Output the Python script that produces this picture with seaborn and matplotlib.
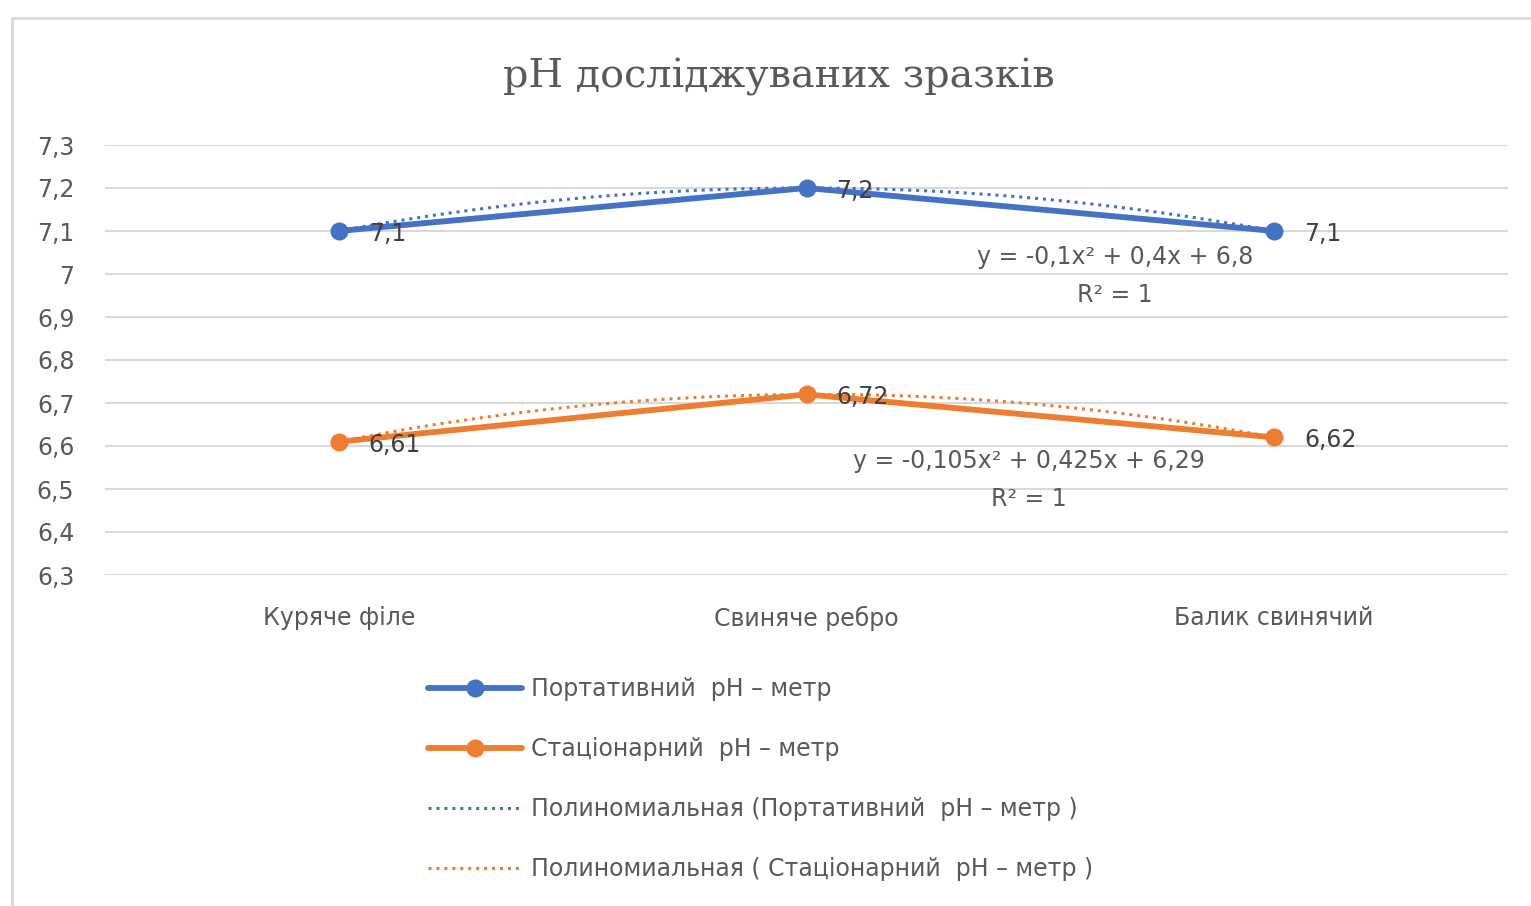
import numpy as np
import pandas as pd
import matplotlib
matplotlib.use("Agg")
import matplotlib.pyplot as plt
from matplotlib.lines import Line2D
from matplotlib.patches import Rectangle
import seaborn as sns

# Samples and measured pH values
samples = ["Куряче філе", "Свиняче ребро", "Балик свинячий"]
portable = [7.1, 7.2, 7.1]
stationary = [6.61, 6.72, 6.62]
series_names = ["Портативний  pH – метр", "Стаціонарний  pH – метр"]
trend_names = ["Полиномиальная (Портативний  pH – метр )",
               "Полиномиальная ( Стаціонарний  pH – метр )"]
equations = ["y = -0,1x² + 0,4x + 6,8", "y = -0,105x² + 0,425x + 6,29"]
y_ticks = [6.3, 6.4, 6.5, 6.6, 6.7, 6.8, 6.9, 7.0, 7.1, 7.2, 7.3]
colors = ["#4472C4", "#ED7D31"]

sns.set_theme(style="white")
plt.rcParams["font.family"] = ["DejaVu Sans"]
FS = 17

df = pd.DataFrame({
    "sample": samples * 2,
    "pH": portable + stationary,
    "series": [series_names[0]] * 3 + [series_names[1]] * 3,
})

fig = plt.figure(figsize=(15.31, 9.06), dpi=100)
ax = fig.add_axes([105 / 1531, 1 - 575 / 906, 1403 / 1531, 430 / 906])

sns.lineplot(data=df, x="sample", y="pH", hue="series", palette=colors,
             marker="o", markersize=13, markeredgewidth=0, linewidth=4.2,
             ax=ax, legend=False, zorder=3)

# Second-order polynomial trendlines (x = 1, 2, 3 as in a spreadsheet)
xs = np.arange(1, len(samples) + 1)
fine = np.linspace(1, len(samples), 200)
for vals, col in zip([portable, stationary], colors):
    coef = np.polyfit(xs, vals, 2)
    ax.plot(fine - 1, np.polyval(coef, fine), color=col, lw=2.2,
            linestyle=(0, (1, 1.6)), zorder=4)

# Data labels
for vals in [portable, stationary]:
    for i, v in enumerate(vals):
        txt = f"{v:g}".replace(".", ",")
        ax.annotate(txt, (i, v), xytext=(30, -3), textcoords="offset pixels",
                    ha="left", va="center", fontsize=FS, color="#404040",
                    zorder=5)

# Trendline equations
eq_pos = [(1.66, 7.04, 6.951), (1.476, 6.565, 6.477)]
for eq, (ex, ey, ry) in zip(equations, eq_pos):
    ax.text(ex, ey, eq, ha="center", va="center", fontsize=FS, color="#595959")
    ax.text(ex, ry, "R² = 1", ha="center", va="center", fontsize=FS,
            color="#595959")

ax.set_xlim(-0.5, 2.5)
ax.set_ylim(6.3, 7.3)
ax.set_yticks(y_ticks)
ax.set_yticklabels([f"{t:g}".replace(".", ",") for t in y_ticks])
ax.tick_params(axis="both", length=0, labelsize=FS, labelcolor="#595959")
ax.tick_params(axis="y", pad=22)
ax.tick_params(axis="x", pad=22)
ax.set_xlabel("")
ax.set_ylabel("")
ax.grid(axis="y", color="#d9d9d9", lw=1.5)
ax.set_axisbelow(True)
for s in ax.spines.values():
    s.set_visible(False)

fig.text(779 / 1531, 1 - 77 / 906, "pH досліджуваних зразків", ha="center",
         va="center", fontsize=28.6, color="#595959",
         family=["DejaVu Serif"])

# Chart area border
fig.patches.append(Rectangle((12 / 1531, -0.1), 1.2, 1 - 18 / 906 + 0.1,
                             transform=fig.transFigure, fill=False,
                             edgecolor="#d9d9d9", lw=2, zorder=0))

handles = [
    Line2D([], [], color=colors[0], lw=4.2, marker="o", markersize=13,
           markeredgewidth=0),
    Line2D([], [], color=colors[1], lw=4.2, marker="o", markersize=13,
           markeredgewidth=0),
    Line2D([], [], color=colors[0], lw=2.2, linestyle=(0, (1, 1.6))),
    Line2D([], [], color=colors[1], lw=2.2, linestyle=(0, (1, 1.6))),
]
labels = series_names + trend_names
fig.legend(handles, labels, loc="upper left",
           bbox_to_anchor=(428 / 1531, 1 - 677 / 906), frameon=False,
           fontsize=FS, labelcolor="#595959", handlelength=3.98,
           handletextpad=0.38, labelspacing=1.525, borderpad=0,
           borderaxespad=0)

fig.savefig("out.png", dpi=100)
